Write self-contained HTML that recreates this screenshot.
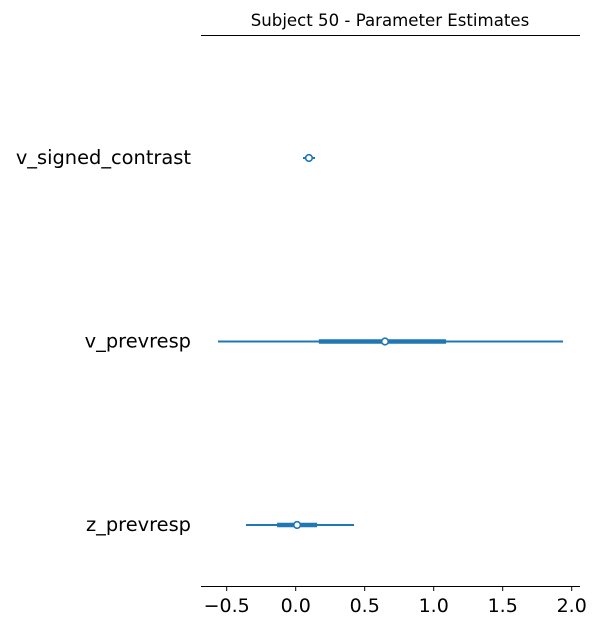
<!DOCTYPE html>
<html><head><meta charset="utf-8"><style>
body{margin:0;background:#fff;font-family:"Liberation Sans","DejaVu Sans",sans-serif;}
svg text{font-family:"DejaVu Sans","Liberation Sans",sans-serif;}
</style></head><body>
<svg id="chart" width="600" height="630" xmlns="http://www.w3.org/2000/svg">
<text x="390" y="26" text-anchor="middle" font-size="16.6" fill="#000">Subject 50 - Parameter Estimates</text>
<line x1="201" y1="35.5" x2="580" y2="35.5" stroke="#000" stroke-width="1"/>
<line x1="201" y1="586.5" x2="580" y2="586.5" stroke="#000" stroke-width="1"/>
<g id="ticks"></g>
<g id="rows"></g>
</svg>
<script>
const params = ["v_signed_contrast","v_prevresp","z_prevresp"];
const hdiLow = [0.053, -0.563, -0.36];
const hdiHigh = [0.14, 1.937, 0.423];
const iqrLow = [0.08, 0.168, -0.135];
const iqrHigh = [0.12, 1.089, 0.155];
const medians = [0.096, 0.647, 0.01];
const xTicks = [-0.5, 0.0, 0.5, 1.0, 1.5, 2.0];
const xTickLabels = ["\u22120.5","0.0","0.5","1.0","1.5","2.0"];

const NS = "http://www.w3.org/2000/svg";
const x = v => 295.7 + v * 138;
const y = i => 158 + i * 183.5;
function mk(tag, attrs, parent){const e=document.createElementNS(NS,tag);for(const k in attrs)e.setAttribute(k,attrs[k]);parent.appendChild(e);return e;}
const tg = document.getElementById('ticks');
xTicks.forEach((t,i)=>{
  const l = mk('line',{x1:x(t),x2:x(t),y1:586,y2:591,stroke:'#000','stroke-width':1},tg);
  
  
  const tx = mk('text',{x:x(t),y:612,'text-anchor':'middle','font-size':19,fill:'#000'},tg);
  tx.textContent = xTickLabels[i];
  
  
});
const rg = document.getElementById('rows');
params.forEach((p,i)=>{
  const g = mk('g',{},rg);
  
  
  const lab = mk('text',{x:191,y:y(i)+6,'text-anchor':'end','font-size':19.4,fill:'#000'},g);
  lab.textContent = p;
  
  
  const h = mk('line',{x1:x(hdiLow[i]),x2:x(hdiHigh[i]),y1:y(i),y2:y(i),stroke:'#1f77b4','stroke-width':2},g);
  
  
  const q = mk('line',{x1:x(iqrLow[i]),x2:x(iqrHigh[i]),y1:y(i),y2:y(i),stroke:'#1f77b4','stroke-width':4.5},g);
  
  
  const c = mk('circle',{cx:x(medians[i]),cy:y(i),r:3.3,fill:'#fff',stroke:'#1f77b4','stroke-width':1.6},g);
  
  
});
</script>
</body></html>
